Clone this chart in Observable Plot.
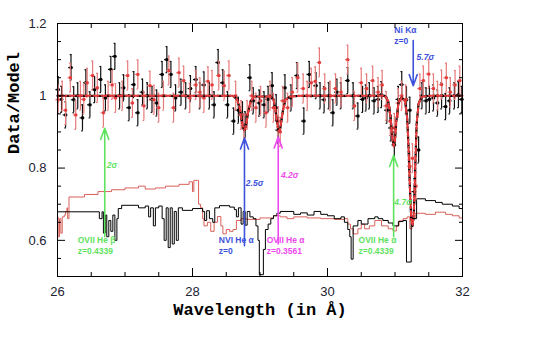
<!DOCTYPE html>
<html><head><meta charset="utf-8">
<script src="https://cdn.jsdelivr.net/npm/d3@7"></script>
<script src="https://cdn.jsdelivr.net/npm/@observablehq/plot@0.6"></script>
<style>body{margin:0;background:#fff}</style>
</head><body><div id="chart"></div>
<script>
// Black data points (wavelength, data/model)
const blackX = [26.01,26.06,26.12,26.2,26.24,26.3,26.37,26.42,26.48,26.55,26.64,26.71,26.79,26.85,26.92,26.98,27.06,27.13,27.19,27.26,27.33,27.4,27.47,27.55,27.62,27.68,27.75,27.83,27.9,27.97,28.05,28.11,28.17,28.25,28.32,28.38,28.45,28.52,28.61,28.68,28.74,28.78,28.85,28.9,28.99,29.06,29.12,29.18,29.24,29.27,29.37,29.46,29.55,29.65,29.73,29.83,29.89,29.95,30.02,30.08,30.14,30.2,30.3,30.38,30.45,30.52,30.57,30.62,30.69,30.75,30.8,30.88,30.94,30.99,31.05,31.1,31.17,31.22,31.29,31.35,31.4,31.46,31.51,31.57,31.63,31.69,31.75,31.81,31.88,31.94,31.99];
const blackY = [1.017,0.99,0.947,1.078,0.989,1.0,0.939,1.036,0.975,1.017,1.045,0.994,1.073,1.109,1.0,1.022,0.967,1.031,0.953,1.01,1.0,0.99,0.98,1.059,1.1,1.059,0.994,1.01,1.0,1.02,1.045,1.0,1.03,1.0,0.975,1.092,1.036,0.975,0.93,0.96,0.947,0.92,1.05,0.986,0.98,0.975,0.99,1.028,0.967,0.905,1.022,0.994,1.056,0.93,1.059,1.028,1.0,0.989,1.0,0.953,1.01,1.0,1.042,1.0,0.944,0.99,0.994,1.0,0.986,0.99,1.003,0.96,0.911,0.864,0.99,1.031,0.989,0.96,0.735,0.85,1.0,0.986,0.99,0.994,0.98,1.0,0.97,0.986,1.0,1.003,0.99];
const blackErr = 0.036;
// Red data points
const redX = [26.01,26.07,26.12,26.19,26.27,26.34,26.39,26.44,26.52,26.59,26.68,26.75,26.81,26.86,26.96,27.04,27.11,27.19,27.28,27.37,27.43,27.5,27.57,27.65,27.72,27.8,27.87,27.96,28.05,28.11,28.17,28.23,28.29,28.39,28.47,28.54,28.64,28.72,28.76,28.81,28.88,28.94,29.01,29.09,29.15,29.2,29.27,29.3,29.34,29.41,29.48,29.56,29.64,29.7,29.76,29.82,29.88,29.96,30.04,30.12,30.2,30.3,30.4,30.5,30.58,30.67,30.75,30.81,30.87,30.93,30.99,31.05,31.1,31.16,31.22,31.26,31.31,31.37,31.42,31.5,31.57,31.63,31.69,31.76,31.82,31.89,31.96];
const redY = [0.989,1.0,0.96,1.05,0.947,1.0,0.99,1.036,1.056,1.022,0.953,1.0,1.03,0.994,1.0,1.056,0.98,1.059,0.972,1.028,0.989,0.967,1.0,1.07,0.967,1.064,1.042,0.994,1.03,1.01,0.994,1.04,1.03,1.056,1.028,1.056,1.0,0.947,0.91,0.947,1.0,0.967,0.986,0.953,1.0,0.967,0.93,0.9,0.986,0.967,1.01,1.05,1.02,1.0,1.036,1.04,1.092,1.02,1.0,1.02,1.01,1.1,0.972,1.036,1.02,1.042,1.01,1.03,0.972,0.93,0.911,0.98,1.0,0.99,0.805,0.827,0.75,1.02,1.042,1.06,1.02,1.0,1.031,1.05,1.01,1.03,1.042];
const redErr = 0.04;
const binHalf = 0.035;
// Best-fit model (dashed)
const modelX = [26.0,28.6,28.66,28.7,28.73,28.75,28.77,28.79,28.82,28.86,28.92,29.15,29.2,29.23,29.25,29.27,29.29,29.31,29.34,29.38,29.45,29.6,30.85,30.9,30.94,30.96,30.98,31.0,31.02,31.05,31.1,31.15,31.18,31.2,31.22,31.24,31.26,31.28,31.3,31.32,31.35,31.4,31.5,32.0];
const modelY = [1.0,1.0,0.99,0.965,0.93,0.912,0.905,0.915,0.95,0.985,0.998,0.998,0.99,0.96,0.93,0.905,0.9,0.92,0.96,0.99,0.998,1.0,1.0,0.985,0.93,0.885,0.86,0.875,0.93,0.98,0.995,0.985,0.94,0.86,0.75,0.66,0.64,0.68,0.8,0.92,0.98,0.997,1.0,1.0];
// Lower step curves (black and red)
const stepBlackX = [26.0,26.62,26.66,26.68,26.71,26.73,26.76,26.79,26.82,26.85,26.88,26.9,26.95,27.2,27.3,27.35,27.38,27.42,27.45,27.5,27.55,27.58,27.61,27.64,27.67,27.7,27.73,27.76,27.79,27.85,28.0,28.15,28.18,28.21,28.25,28.3,28.33,28.4,28.55,28.62,28.65,28.68,28.72,28.75,28.78,28.81,28.85,28.9,28.94,28.97,28.99,29.05,29.08,29.12,29.16,29.2,29.25,29.3,29.5,29.6,29.7,29.8,29.9,30.0,30.1,30.2,30.25,30.3,30.33,30.35,30.38,30.45,30.5,30.6,30.7,30.75,30.82,30.9,30.97,31.05,31.12,31.17,31.24,31.28,31.32,31.45,31.6,31.7,31.85,31.95,32.0];
const stepBlackY = [0.679,0.66,0.679,0.62,0.67,0.61,0.655,0.625,0.67,0.60,0.66,0.688,0.697,0.69,0.695,0.665,0.69,0.64,0.69,0.695,0.66,0.60,0.69,0.58,0.69,0.59,0.68,0.60,0.69,0.683,0.688,0.68,0.655,0.682,0.66,0.65,0.69,0.696,0.692,0.685,0.665,0.69,0.645,0.68,0.642,0.68,0.665,0.66,0.64,0.60,0.505,0.575,0.63,0.645,0.66,0.668,0.675,0.68,0.672,0.676,0.67,0.68,0.672,0.668,0.66,0.665,0.65,0.63,0.61,0.548,0.64,0.655,0.645,0.66,0.665,0.66,0.655,0.648,0.64,0.652,0.655,0.54,0.655,0.66,0.715,0.71,0.705,0.70,0.695,0.688,0.688];
const stepRedX = [26.0,26.01,26.03,26.05,26.07,26.1,26.12,26.14,26.15,26.17,26.2,26.4,26.6,26.8,27.0,27.2,27.3,27.45,27.6,27.8,27.95,28.0,28.02,28.07,28.09,28.12,28.15,28.17,28.22,28.27,28.32,28.37,28.42,28.45,28.5,28.55,28.6,28.65,28.72,28.8,29.0,29.2,29.3,29.4,29.5,29.7,29.9,30.1,30.25,30.3,30.34,30.38,30.45,30.5,30.55,30.62,30.7,30.8,30.9,30.97,31.02,31.06,31.12,31.18,31.22,31.25,31.3,31.45,31.6,31.75,31.85,31.95,32.0];
const stepRedY = [0.665,0.61,0.66,0.62,0.665,0.67,0.68,0.69,0.66,0.72,0.72,0.727,0.735,0.74,0.745,0.75,0.742,0.745,0.75,0.755,0.762,0.735,0.766,0.766,0.70,0.69,0.66,0.64,0.65,0.625,0.65,0.666,0.64,0.618,0.63,0.625,0.63,0.655,0.66,0.658,0.662,0.668,0.665,0.66,0.665,0.662,0.66,0.658,0.66,0.645,0.632,0.618,0.632,0.645,0.632,0.64,0.655,0.64,0.632,0.626,0.64,0.654,0.66,0.665,0.632,0.66,0.675,0.672,0.678,0.672,0.668,0.662,0.662];
// Line identifications
const arrowX = [26.70, 28.77, 29.27, 30.98, 31.27];
const arrowFrom = [0.61, 0.585, 0.59, 0.61, 1.153];
const arrowTo = [0.91, 0.883, 0.886, 0.835, 1.028];
const arrowColor = ["#5fe35f", "#3e52dc", "#ee48ee", "#5fe35f", "#3e52dc"];
const sigmaText = ["2σ", "2.5σ", "4.2σ", "4.7σ", "5.7σ"];
const sigmaX = [26.73, 28.79, 29.31, 30.99, 31.32];
const sigmaY = [0.807, 0.757, 0.779, 0.705, 1.106];
const lineName = ["OVII He β\nz=0.4339", "NVI He α\nz=0", "OVII He α\nz=0.3561", "OVII He α\nz=0.4339", "Ni Kα\nz=0"];
const lineNameX = [26.3, 28.39, 29.1, 30.46, 30.99];
const lineNameY = [0.586, 0.586, 0.586, 0.586, 1.167];
const xMajorTicks = [26, 28, 30, 32];
const xMinorTicks = [26.5, 27, 27.5, 28.5, 29, 29.5, 30.5, 31, 31.5];
const yMajorTicks = [0.6, 0.8, 1, 1.2];
const yMinorTicks = [0.55, 0.65, 0.7, 0.75, 0.85, 0.9, 0.95, 1.05, 1.1, 1.15];

const black = blackX.map((x, i) => ({x, y: blackY[i], e: blackErr}));
const red = redX.map((x, i) => ({x, y: redY[i], e: redErr}));
const model = modelX.map((x, i) => ({x, y: modelY[i]}));
const stepB = stepBlackX.map((x, i) => ({x, y: stepBlackY[i]}));
const stepR = stepRedX.map((x, i) => ({x, y: stepRedY[i]}));
const arrows = arrowX.map((x, i) => ({x, y1: arrowFrom[i], y2: arrowTo[i], c: arrowColor[i]}));
const sigmas = sigmaText.map((t, i) => ({t, x: sigmaX[i], y: sigmaY[i], c: arrowColor[i]}));
const names = lineName.map((t, i) => ({t, x: lineNameX[i], y: lineNameY[i], c: arrowColor[i]}));

function errMarks(data, barColor, dotColor) {
  const cap = 0.012;
  return [
    Plot.ruleX(data, {x: "x", y1: d => d.y - d.e, y2: d => d.y + d.e, stroke: barColor, strokeWidth: 1.2}),
    Plot.ruleY(data, {y: "y", x1: d => d.x - binHalf, x2: d => d.x + binHalf, stroke: barColor, strokeWidth: 1.2}),
    Plot.ruleY(data, {y: d => d.y + d.e, x1: d => d.x - cap, x2: d => d.x + cap, stroke: barColor, strokeWidth: 1.2}),
    Plot.ruleY(data, {y: d => d.y - d.e, x1: d => d.x - cap, x2: d => d.x + cap, stroke: barColor, strokeWidth: 1.2}),
    Plot.dot(data, {x: "x", y: "y", symbol: "square", r: 1.6, fill: dotColor})
  ];
}

const tickStyle = {tickFormat: () => "", label: null, stroke: "black"};
const plot = Plot.plot({
  width: 550, height: 344,
  marginLeft: 57, marginRight: 88, marginTop: 23, marginBottom: 68,
  x: {domain: [26, 32]},
  y: {domain: [0.5, 1.2]},
  style: {fontFamily: "'Liberation Sans', Arial, sans-serif", background: "#fff"},
  marks: [
    Plot.line(stepR, {x: "x", y: "y", curve: "step-after", stroke: "#d9605a", strokeWidth: 1}),
    Plot.line(stepB, {x: "x", y: "y", curve: "step-after", stroke: "#000", strokeWidth: 1}),
    ...errMarks(black, "#111", "#000"),
    ...errMarks(red, "#e77a7a", "#e23a3a"),
    Plot.line(model, {x: "x", y: "y", stroke: "#000", strokeWidth: 2.2, strokeDasharray: "5,3"}),
    Plot.line(model, {x: "x", y: "y", stroke: "#e83a3a", strokeWidth: 2, strokeDasharray: "5,3", strokeDashoffset: 4}),
    Plot.arrow(arrows, {x: "x", y1: "y1", y2: "y2", stroke: "c", strokeWidth: 1.6, headLength: 11, headAngle: 40}),
    Plot.text(sigmas, {x: "x", y: "y", text: "t", fill: "c", textAnchor: "start", fontSize: 8.5, fontWeight: "bold", fontStyle: "italic"}),
    Plot.text(names, {x: "x", y: "y", text: "t", fill: "c", textAnchor: "start", lineAnchor: "middle", fontSize: 8.5, fontWeight: "bold", lineHeight: 1.3}),
    Plot.axisX({ticks: xMajorTicks, tickSize: -8, ...tickStyle}),
    Plot.axisX({ticks: xMinorTicks, tickSize: -4, ...tickStyle}),
    Plot.axisX({ticks: xMajorTicks, anchor: "top", tickSize: -8, ...tickStyle}),
    Plot.axisX({ticks: xMinorTicks, anchor: "top", tickSize: -4, ...tickStyle}),
    Plot.axisY({ticks: yMajorTicks, tickSize: -8, ...tickStyle}),
    Plot.axisY({ticks: yMinorTicks, tickSize: -4, ...tickStyle}),
    Plot.axisY({ticks: yMajorTicks, anchor: "right", tickSize: -8, ...tickStyle}),
    Plot.axisY({ticks: yMinorTicks, anchor: "right", tickSize: -4, ...tickStyle}),
    Plot.axisX({ticks: xMajorTicks, tickSize: 0, tickPadding: 10, fontSize: 13, label: null, fill: "#223", tickFormat: d => String(d)}),
    Plot.axisY({ticks: yMajorTicks, tickSize: 0, tickPadding: 11, fontSize: 13, label: null, fill: "#223", tickFormat: d => String(d)}),
    Plot.frame({stroke: "#000", strokeWidth: 1}),
    Plot.text(["Wavelength (in Å)"], {frameAnchor: "bottom", dy: 38, fontFamily: "'Liberation Mono', monospace", fontWeight: "bold", fontSize: 17, fill: "#000"}),
    Plot.text(["Data/Model"], {frameAnchor: "left", dx: -44, dy: 4, rotate: -90, fontFamily: "'Liberation Mono', monospace", fontWeight: "bold", fontSize: 17, fill: "#000"})
  ]
});
document.getElementById("chart").append(plot);
</script>
</body></html>
